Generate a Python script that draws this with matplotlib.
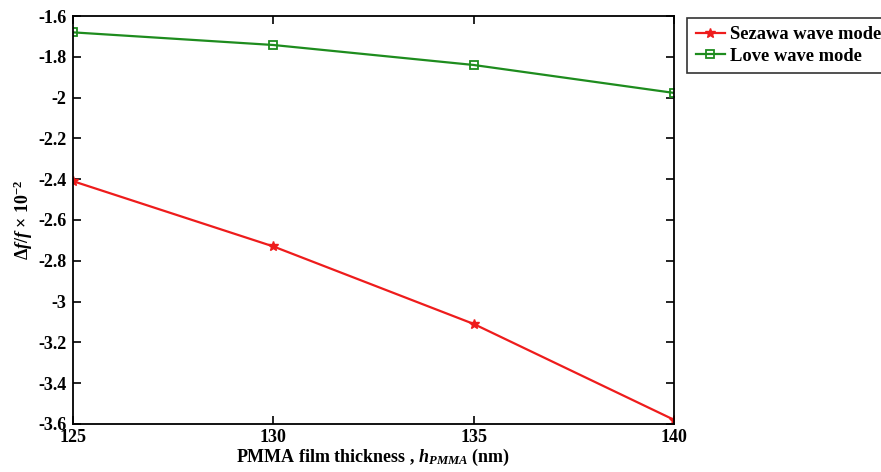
import matplotlib
matplotlib.use("Agg")
import matplotlib.pyplot as plt

# PMMA film thickness (nm)
thickness = [125, 130, 135, 140]
sezawa = [-2.41, -2.73, -3.11, -3.58]
love = [-1.68, -1.742, -1.84, -1.977]

yticks = [-1.6, -1.8, -2.0, -2.2, -2.4, -2.6, -2.8, -3.0, -3.2, -3.4, -3.6]
ytick_labels = ["-1.6", "-1.8", "-2", "-2.2", "-2.4", "-2.6", "-2.8", "-3", "-3.2", "-3.4", "-3.6"]

plt.rcParams["font.family"] = "Liberation Serif"
plt.rcParams["font.weight"] = "bold"
plt.rcParams["mathtext.fontset"] = "custom"
plt.rcParams["mathtext.rm"] = "Liberation Serif:bold"
plt.rcParams["mathtext.it"] = "Liberation Serif:italic:bold"
plt.rcParams["mathtext.bf"] = "Liberation Serif:bold"

fig = plt.figure(figsize=(8.81, 4.72), dpi=100)
ax = fig.add_axes([0.083, 0.102, 0.682, 0.864])

ax.plot(thickness, sezawa, color="#ee1c1c", lw=1.6, marker="*", ms=7,
        label="Sezawa wave mode")
ax.plot(thickness, love, color="#1e8c1e", lw=1.6, marker="s", ms=6,
        markerfacecolor="none", markeredgewidth=1.3, label="Love wave mode")

ax.set_xlim(125, 140)
ax.set_ylim(-3.6, -1.6)
ax.set_xticks(thickness)
ax.set_yticks(yticks)
ax.set_yticklabels(ytick_labels)
ax.tick_params(direction="in", top=True, right=True, labelsize=13, length=6, width=1.2)
ax.tick_params(axis="x", pad=4)
ax.tick_params(axis="y", pad=5)
for s in ax.spines.values():
    s.set_linewidth(1.3)

ax.set_xlabel("PMMA film thickness , $h_{PMMA}$ (nm)", fontsize=13, fontweight="bold", labelpad=0)
ax.set_ylabel(r"$\Delta f/f$ × 10$^{-2}$", fontsize=13, fontweight="bold", labelpad=2)

leg = fig.legend(loc="upper left", bbox_to_anchor=(0.776, 0.97), fontsize=13.3,
                 frameon=True, fancybox=False, edgecolor="black",
                 handlelength=1.6, borderpad=0.45, labelspacing=0.25, handletextpad=0.25,
                 borderaxespad=0.2)
leg.get_frame().set_linewidth(1.2)

fig.savefig("out.png", dpi=100)
